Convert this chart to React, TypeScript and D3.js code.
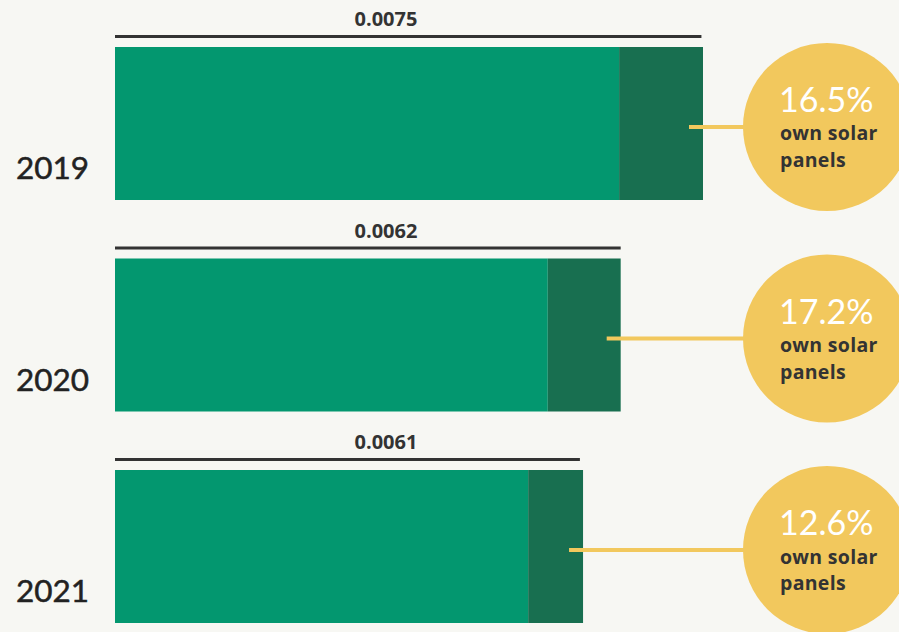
import React from "react";
import * as d3 from "d3";

const years = ["2019", "2020", "2021"];
const valueLabels = ["0.0075", "0.0062", "0.0061"];
const barTotals = [0.0075, 0.00645, 0.00597];
const solarSegments = [0.00107, 0.00093, 0.0007];
const lineLengths = [0.00748, 0.00645, 0.00593];
const solarShares = ["16.5%", "17.2%", "12.6%"];

const W = 899;
const H = 632;

export default function App() {
  const x = d3.scaleLinear().domain([0, 0.0075]).range([115, 703]);
  const y = d3.scaleBand<string>().domain(years).range([47, 623]).paddingInner(0.2766).paddingOuter(0);
  const bw = y.bandwidth();
  const green = "#03976f";
  const dark = "#186f50";
  const yellow = "#f2c85d";
  const ink = "#333333";
  const circleX = 827;
  const r = 84;

  return (
    <svg width={W} height={H} style={{ position: "absolute", left: 0, top: 0 }}>
      <rect x={0} y={0} width={W} height={H} fill="#f7f7f3" />
      {years.map((yr, i) => {
        const top = y(yr)!;
        const cy = top + bw / 2 + 3.5;
        const end = x(barTotals[i]);
        const split = x(barTotals[i] - solarSegments[i]);
        return (
          <g key={yr}>
            <text x={16} y={top + 132} fontFamily="Lato" fontSize={31.5} fill="#222" stroke="#222" strokeWidth={0.5}>{yr}</text>
            <text x={386} y={top - 21} textAnchor="middle" fontFamily="Open Sans" fontWeight={700} fontSize={20} fill={ink}>{valueLabels[i]}</text>
            <line x1={x(0)} x2={x(lineLengths[i])} y1={top - 10.5} y2={top - 10.5} stroke={ink} strokeWidth={3} />
            <rect x={x(0)} y={top} width={split - x(0)} height={bw} fill={green} />
            <rect x={split} y={top} width={end - split} height={bw} fill={dark} />
            <line x1={end - 14} x2={circleX} y1={cy} y2={cy} stroke={yellow} strokeWidth={4} />
            <circle cx={circleX} cy={cy} r={r} fill={yellow} />
            <text x={779} y={cy - 15} fontFamily="Lato" fontSize={34} fill="#fff">{solarShares[i]}</text>
            <text x={780} y={cy + 13.5} fontFamily="Open Sans" fontWeight={700} fontSize={19.5} letterSpacing={0.3} fill={ink}>own solar</text>
            <text x={780} y={cy + 40} fontFamily="Open Sans" fontWeight={700} fontSize={19.5} letterSpacing={0.3} fill={ink}>panels</text>
          </g>
        );
      })}
    </svg>
  );
}
